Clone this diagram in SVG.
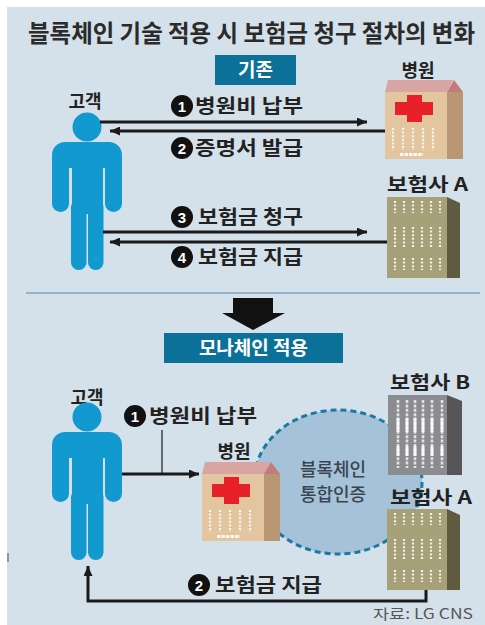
<svg xmlns="http://www.w3.org/2000/svg" width="485" height="625" viewBox="0 0 485 625">
  <style>
    .kr { font-family: "Noto Sans CJK KR", "Noto Sans", sans-serif; }
    .title { font-size: 24px; font-weight: 700; fill: #2b2b2b; }
    .tag { font-size: 19px; font-weight: 700; fill: #ffffff; }
    .head { font-size: 18px; font-weight: 700; fill: #222222; }
    .step { font-size: 19px; font-weight: 700; fill: #222222; }
    .chain { font-size: 18px; font-weight: 500; fill: #3a4550; }
    .num { font-family: "Liberation Sans", sans-serif; font-size: 15px; font-weight: 700; fill: #ffffff; }
    .arrow { stroke: #1a1a1a; stroke-width: 3; fill: none; }
    .win { stroke: #ffffff; stroke-width: 2.2; stroke-dasharray: 2 1.6; fill: none; opacity: 0.85; }
  </style>
  <defs>
    <marker id="head" markerUnits="userSpaceOnUse" markerWidth="11" markerHeight="9" refX="10" refY="4.5" orient="auto">
      <path d="M0,0 L10,4.5 L0,9 z" fill="#1a1a1a"/>
    </marker>
    <!-- customer figure, head centred at (87,127) -->
    <g id="person" fill="#1199d0">
      <circle cx="87" cy="127" r="14.5"/>
      <rect x="52" y="142" width="70" height="26" rx="13"/>
      <rect x="52" y="150" width="17" height="62" rx="8.5"/>
      <rect x="105" y="150" width="17" height="62" rx="8.5"/>
      <rect x="72" y="150" width="31" height="64"/>
      <rect x="71" y="200" width="15.5" height="70" rx="7.5"/>
      <rect x="88" y="200" width="15.5" height="70" rx="7.5"/>
    </g>
    <!-- hospital building, local origin at top-left -->
    <g id="hospital">
      <rect x="0" y="12" width="62" height="67" fill="#e3c6a0"/>
      <rect x="62" y="12" width="16" height="67" fill="#b99775"/>
      <polygon points="3,0 68,0 62,12 0,12" fill="#d9a5a2"/>
      <polygon points="62,12 69,0 78,12" fill="#c27b78"/>
      <rect x="10" y="22" width="38" height="13" fill="#e8202a"/>
      <rect x="22" y="15" width="15" height="27" fill="#e8202a"/>
      <g class="win">
        <line x1="8" y1="48" x2="8" y2="70"/>
        <line x1="18" y1="48" x2="18" y2="70"/>
        <line x1="28" y1="48" x2="28" y2="70"/>
        <line x1="38" y1="48" x2="38" y2="70"/>
        <line x1="48" y1="48" x2="48" y2="70"/>
      </g>
      <line x1="15" y1="74.5" x2="38" y2="74.5" stroke="#ffffff" stroke-width="3" stroke-dasharray="3.5 1" opacity="0.9"/>
    </g>
    <!-- olive insurer building -->
    <g id="insurerA">
      <rect x="0" y="0" width="60" height="81" fill="#a6a178"/>
      <polygon points="60,0 73,6 73,81 60,81" fill="#5e5b41"/>
      <g class="win">
        <path d="M8,4 V16 M17,4 V16 M26,4 V16 M35,4 V16 M44,4 V16 M53,4 V16"/>
        <path d="M8,30 V50 M17,30 V50 M26,30 V50 M35,30 V50 M44,30 V50 M53,30 V50"/>
        <path d="M8,61 V73 M17,61 V73 M26,61 V73 M35,61 V73 M44,61 V73 M53,61 V73"/>
      </g>
    </g>
  </defs>

  <!-- panel -->
  <rect x="7" y="7" width="478" height="618" fill="#d5e1ea"/>
  <line x1="8" y1="553" x2="8" y2="562" stroke="#666" stroke-width="1.2"/>

  <text class="kr title" x="28" y="42" textLength="447" lengthAdjust="spacingAndGlyphs">블록체인 기술 적용 시 보험금 청구 절차의 변화</text>

  <!-- existing process -->
  <g id="tag-before">
    <rect x="215" y="55" width="81" height="30" fill="#0b7198"/>
    <text class="kr tag" x="255.5" y="77" text-anchor="middle">기존</text>
  </g>

  <g id="customer-top">
    <text class="kr head" x="85" y="108" text-anchor="middle">고객</text>
    <use href="#person"/>
  </g>

  <g id="hospital-top">
    <text class="kr head" x="418" y="77" text-anchor="middle">병원</text>
    <use href="#hospital" x="385" y="80"/>
  </g>

  <g id="insurerA-top">
    <text class="kr head" x="387" y="191" textLength="81" lengthAdjust="spacingAndGlyphs">보험사 A</text>
    <use href="#insurerA" x="387" y="197"/>
  </g>

  <g id="connectors-top">
    <line class="arrow" x1="100" y1="122" x2="367" y2="122" marker-end="url(#head)"/>
    <line class="arrow" x1="385" y1="131" x2="110" y2="131" marker-end="url(#head)"/>
    <line class="arrow" x1="103" y1="232" x2="367" y2="232" marker-end="url(#head)"/>
    <line class="arrow" x1="387" y1="242" x2="110" y2="242" marker-end="url(#head)"/>
  </g>

  <g id="step-labels-top">
    <circle cx="182" cy="106" r="11" fill="#111"/>
    <text class="num" x="182" y="111.5" text-anchor="middle">1</text>
    <text class="kr step" x="195" y="113" textLength="108" lengthAdjust="spacingAndGlyphs">병원비 납부</text>
    <circle cx="182" cy="148" r="11" fill="#111"/>
    <text class="num" x="182" y="153.5" text-anchor="middle">2</text>
    <text class="kr step" x="195" y="155" textLength="108" lengthAdjust="spacingAndGlyphs">증명서 발급</text>
    <circle cx="182" cy="217" r="11" fill="#111"/>
    <text class="num" x="182" y="222.5" text-anchor="middle">3</text>
    <text class="kr step" x="198" y="224" textLength="105" lengthAdjust="spacingAndGlyphs">보험금 청구</text>
    <circle cx="182" cy="257" r="11" fill="#111"/>
    <text class="num" x="182" y="262.5" text-anchor="middle">4</text>
    <text class="kr step" x="198" y="264" textLength="105" lengthAdjust="spacingAndGlyphs">보험금 지급</text>
  </g>

  <!-- divider and transition arrow -->
  <line x1="26" y1="293" x2="480" y2="293" stroke="#93b3ca" stroke-width="2"/>
  <polygon points="233,298 273,298 273,313 285,313 253,330 222,313 233,313" fill="#111"/>

  <!-- blockchain process -->
  <g id="tag-after">
    <rect x="164" y="333" width="179" height="30" fill="#0b7198"/>
    <text class="kr tag" x="253.5" y="355" text-anchor="middle">모나체인 적용</text>
  </g>

  <g id="blockchain-auth">
    <ellipse cx="338" cy="482" rx="84" ry="72" fill="#a5c2d9" stroke="#1a7aa5" stroke-width="3" stroke-dasharray="6 4"/>
    <text class="kr chain" x="333" y="476" text-anchor="middle">블록체인</text>
    <text class="kr chain" x="333" y="501" text-anchor="middle">통합인증</text>
  </g>

  <g id="customer-bottom">
    <text class="kr head" x="87" y="404" text-anchor="middle">고객</text>
    <use href="#person" y="290"/>
  </g>

  <g id="hospital-bottom">
    <text class="kr head" x="234" y="458" text-anchor="middle">병원</text>
    <use href="#hospital" x="202" y="462"/>
  </g>

  <g id="insurerB-bottom">
    <text class="kr head" x="390" y="389" textLength="80" lengthAdjust="spacingAndGlyphs">보험사 B</text>
    <rect x="388" y="395" width="59" height="80" fill="#8b8c90"/>
    <polygon points="447,395 462,401 462,475 447,475" fill="#565659"/>
    <g stroke="#ffffff" stroke-width="2.6" stroke-dasharray="3 1.4" opacity="0.75">
      <path d="M398,400 V468 M407,400 V468 M415,400 V468 M423,400 V468 M432,400 V468 M442,400 V468"/>
    </g>
    <g stroke="#ffffff" stroke-width="3" opacity="0.9">
      <path d="M398,418 V432 M407,418 V432 M415,418 V432 M423,418 V432 M432,418 V432 M442,418 V432"/>
      <path d="M398,446 V456 M407,446 V456 M415,446 V456 M423,446 V456 M432,446 V456 M442,446 V456"/>
    </g>
  </g>

  <g id="insurerA-bottom">
    <text class="kr head" x="390" y="504" textLength="82" lengthAdjust="spacingAndGlyphs">보험사 A</text>
    <use href="#insurerA" x="387" y="509"/>
  </g>

  <g id="connectors-bottom">
    <line class="arrow" x1="122" y1="474" x2="199" y2="474" marker-end="url(#head)"/>
    <line x1="162" y1="430" x2="162" y2="474" stroke="#1a1a1a" stroke-width="1.2"/>
    <polyline class="arrow" points="426,590 426,601 88,601 88,566" marker-end="url(#head)"/>
  </g>

  <g id="step-labels-bottom">
    <circle cx="135" cy="416" r="11" fill="#111"/>
    <text class="num" x="135" y="421.5" text-anchor="middle">1</text>
    <text class="kr step" x="149" y="423" textLength="108" lengthAdjust="spacingAndGlyphs">병원비 납부</text>
    <circle cx="199" cy="585" r="11" fill="#111"/>
    <text class="num" x="199" y="590.5" text-anchor="middle">2</text>
    <text class="kr step" x="215" y="592" textLength="107" lengthAdjust="spacingAndGlyphs">보험금 지급</text>
  </g>

  <text class="kr" x="373" y="619" textLength="100" lengthAdjust="spacingAndGlyphs" style="font-size:14px;fill:#555">자료: LG CNS</text>
</svg>
